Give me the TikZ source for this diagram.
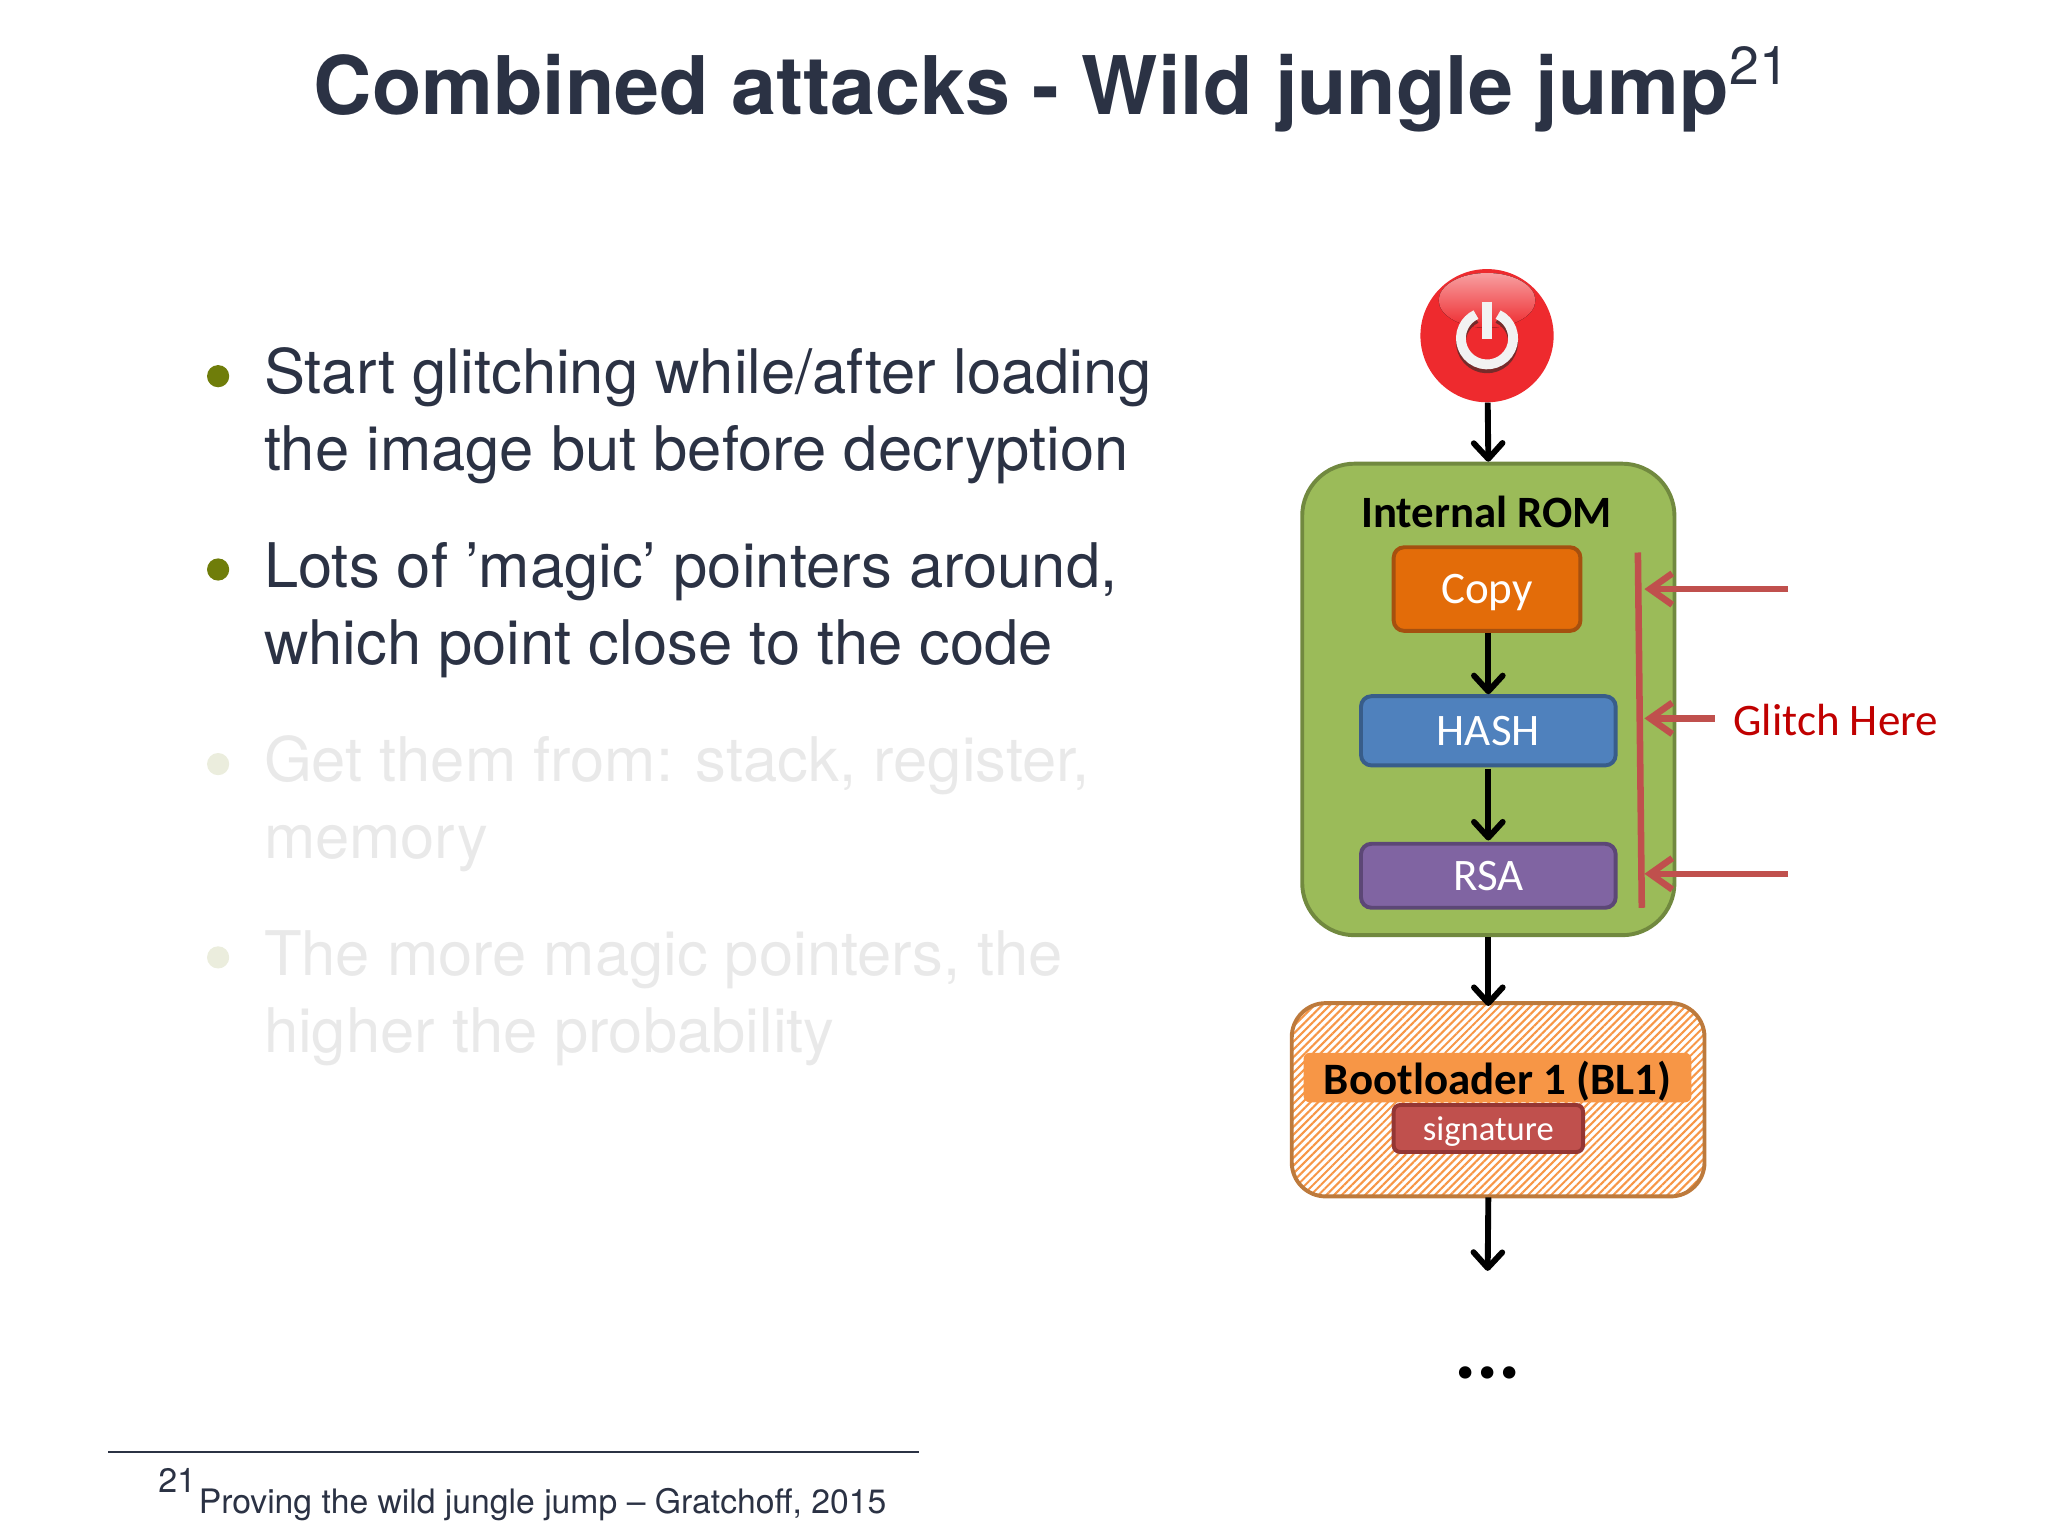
\documentclass[tikz,border=0pt]{standalone}
\usepackage{fontspec}
\setmainfont{TeX Gyre Heros}
\newfontfamily\calibri{Carlito}
\usetikzlibrary{arrows.meta,positioning,patterns.meta}

\definecolor{colencre}{HTML}{2B3244}
\definecolor{colpuce}{HTML}{6F7D0A}
\definecolor{colpale}{HTML}{E9E9E9}
\definecolor{colpucepale}{HTML}{EBEDDD}
\definecolor{colrom}{HTML}{9BBB59}
\definecolor{colrombord}{HTML}{71893F}
\definecolor{colcopy}{HTML}{E36C09}
\definecolor{colcopybord}{HTML}{A5500F}
\definecolor{colhash}{HTML}{4F81BD}
\definecolor{colhashbord}{HTML}{385D8A}
\definecolor{colrsa}{HTML}{8064A2}
\definecolor{colrsabord}{HTML}{5C4776}
\definecolor{colorange}{HTML}{F79646}
\definecolor{colbord}{HTML}{BD7A3C}
\definecolor{colrouge}{HTML}{C0504D}
\definecolor{colrougebord}{HTML}{943634}
\definecolor{colglitch}{HTML}{C00000}
\definecolor{colbouton}{HTML}{EE2A2E}

\tikzset{
  puce/.style={circle,inner sep=0pt,minimum size=17pt,fill=colpuce},
  pucepale/.style={puce,fill=colpucepale},
  liste/.style={anchor=north west,inner sep=0pt,align=left,text=colencre,font=\fontsize{47.1}{59}\selectfont},
  listepale/.style={liste,text=colpale},
  bloc/.style={draw,line width=3pt,rounded corners=8pt,text=white,text depth=0pt,font=\calibri\fontsize{34.5}{38}\selectfont},
  fleche/.style={black,line width=4.5pt,-{Straight Barb[length=12pt,width=22pt,round]}},
  flecherouge/.style={colrouge,line width=5pt,-{Straight Barb[length=17pt,width=24pt]}},
}

\begin{document}
\begin{tikzpicture}[x=1pt,y=-1pt]
\useasboundingbox (0,0) rectangle (1568,1176);

%%% Titre %%%
\node[anchor=base,inner sep=0pt,text=colencre,font=\bfseries\fontsize{61.9}{70}\selectfont] (titre) at (782,88) {Combined attacks - Wild jungle jump};
\node[anchor=base west,inner sep=0pt,text=colencre,font=\fontsize{41}{46}\selectfont] (titrenote) at (1324,65) {21};

%%% Liste %%%
\node[puce] (p1) at (167,288) {};
\node[liste] (l1) at (202,266) {Start glitching while/after loading\\the image but before decryption};
\node[puce] (p2) at (167,436) {};
\node[liste] (l2) at (202,415) {Lots of ’magic’ pointers around,\\which point close to the code};
\node[pucepale] (p3) at (167,585) {};
\node[listepale] (l3) at (202,563) {Get them from: stack, register,\\memory};
\node[pucepale] (p4) at (167,733) {};
\node[listepale] (l4) at (202,712) {The more magic pointers, the\\higher the probability};

%%% Note de bas de page %%%
\node[inner sep=0pt] (debutfilet) at (82,1111.5) {};
\node[inner sep=0pt] (finfilet) at (704,1111.5) {};
\draw[colencre,line width=1.6pt] (debutfilet) -- (finfilet);
\node[anchor=base west,inner sep=0pt,text=colencre,font=\fontsize{26}{30}\selectfont] (notenum) at (121,1143) {21};
\node[anchor=base west,inner sep=0pt,text=colencre,font=\fontsize{25.8}{30}\selectfont] (notetexte) at (152,1159) {Proving the wild jungle jump – Gratchoff, 2015};

%%% Bouton %%%
\node[circle,inner sep=0pt,minimum size=102pt,fill=colbouton] (bouton) at (1138.5,257) {};
\fill[top color=white!55!colbouton,bottom color=colbouton] (1138.5,230) ellipse (37 and 21);
\draw[colrougebord!80!black,line width=7.5pt] (1138.5,262) ++(-65:20) arc[start angle=-65,end angle=245,radius=20];
\draw[white!90!gray,line width=7.5pt] (1138.5,259) ++(-65:20) arc[start angle=-65,end angle=245,radius=20];
\draw[white!90!gray,line width=8pt] (1138.5,231) -- (1138.5,259.5);

%%% ROM %%%
\node[draw=colrombord,fill=colrom,line width=3pt,rounded corners=40pt,minimum width=285pt,minimum height=361pt] (rom) at (1139.5,535.5) {};
\node[inner sep=0pt,font=\calibri\bfseries\fontsize{34.3}{38}\selectfont] (romtitre) at (1138,392) {Internal ROM};
\node[bloc,draw=colcopybord,fill=colcopy,minimum width=143pt,minimum height=64pt] (copy) at (1138.5,451) {Copy};
\node[bloc,draw=colhashbord,fill=colhash,minimum width=195pt,minimum height=53pt] (hash) at (1139.5,559.5) {HASH};
\node[bloc,draw=colrsabord,fill=colrsa,minimum width=195pt,minimum height=49pt] (rsa) at (1139.5,670.5) {RSA};

%%% Bootloader %%%
\node[draw=colbord,line width=3pt,rounded corners=26pt,minimum width=316pt,minimum height=148pt,
  pattern={Lines[angle=45,distance=4.2pt,line width=1.6pt]},pattern color=colorange] (bl) at (1147,842) {};
\node[fill=colorange,rounded corners=5pt,inner sep=0pt,text depth=0pt,minimum width=297pt,minimum height=38pt,font=\calibri\bfseries\fontsize{34.4}{38}\selectfont] (bltitre) at (1146.5,825) {Bootloader 1 (BL1)};
\node[bloc,draw=colrougebord,fill=colrouge,rounded corners=5pt,minimum width=145pt,minimum height=36pt,inner sep=0pt,font=\calibri\fontsize{26.5}{30}\selectfont] (signature) at (1139.5,864) {signature};

%%% Flèches noires %%%
\coordinate (fin) at (1139,973);
\draw[fleche] (bouton) -- (rom.north);
\draw[fleche] (copy.south -| hash) -- (hash.north);
\draw[fleche,shorten <=3pt,shorten >=1pt] (hash) ++(0,26) -- (rsa.north);
\draw[fleche,shorten >=-3pt] (rom.south) -- (rom.south |- bl.north);
\draw[fleche] (rom.south |- bl.south) -- (fin);
\node[inner sep=0pt,font=\calibri\bfseries\fontsize{64}{70}\selectfont] (suite) at (1139,1051) {...};

%%% Glitch %%%
\coordinate (barrehaut) at (1254,423);
\coordinate (barrebas) at (1257,695);
\coordinate (g1) at (1369,451);
\coordinate (g2) at (1313,550);
\coordinate (g3) at (1369,669);
\draw[colrouge,line width=5pt] (barrehaut) -- (barrebas);
\draw[flecherouge] (g1) -- (1259,451);
\draw[flecherouge] (g2) -- (1259,550);
\draw[flecherouge] (g3) -- (1259,669);
\node[inner sep=0pt,text=colglitch,font=\calibri\fontsize{34.5}{38}\selectfont] (glitch) at (1405.5,551) {Glitch Here};

\end{tikzpicture}
\end{document}
